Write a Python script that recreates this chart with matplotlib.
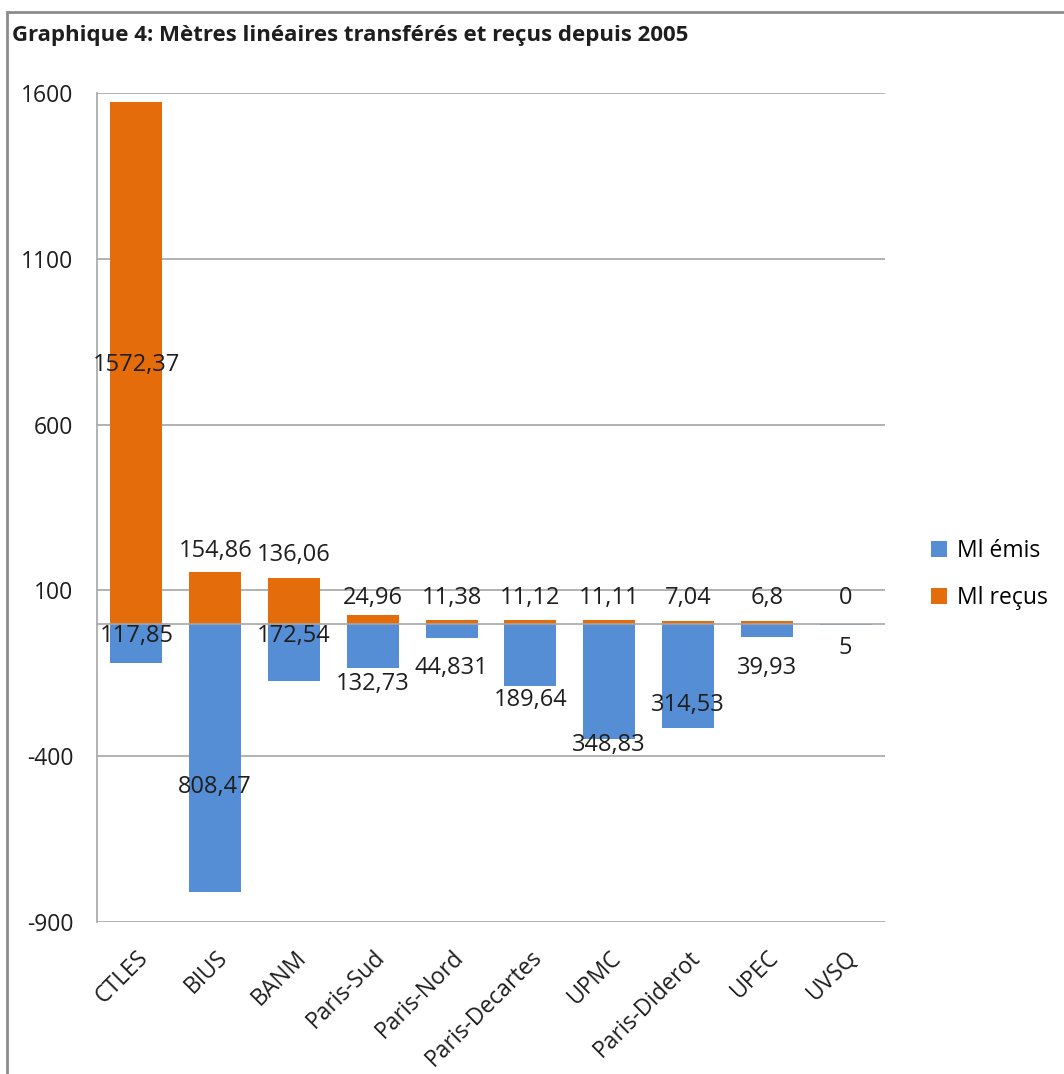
import matplotlib
matplotlib.use('Agg')
import matplotlib.pyplot as plt
from matplotlib.patches import Rectangle

plt.rcParams['font.family'] = ['Open Sans', 'DejaVu Sans']

# donnees
sites = ['CTLES', 'BIUS', 'BANM', 'Paris-Sud', 'Paris-Nord', 'Paris-Decartes',
         'UPMC', 'Paris-Diderot', 'UPEC', 'UVSQ']
emis = [117.85, 808.47, 172.54, 132.73, 44.831, 189.64, 348.83, 314.53, 39.93, 5]
recus = [1572.37, 154.86, 136.06, 24.96, 11.38, 11.12, 11.11, 7.04, 6.8, 0]
emis_txt = ['117,85', '808,47', '172,54', '132,73', '44,831', '189,64',
            '348,83', '314,53', '39,93', '5']
recus_txt = ['1572,37', '154,86', '136,06', '24,96', '11,38', '11,12',
             '11,11', '7,04', '6,8', '0']
# position verticale des etiquettes (comme dans le graphique d'origine)
emis_lab_y = [-37, -493, -37, -182, -134, -230, -366, -245, -134, -74]
recus_lab_y = [780, 219, 207, 77, 77, 77, 77, 77, 77, 77]
yticks = [1600, 1100, 600, 100, -400, -900]

blue = '#558ED5'
orange = '#E46C0A'
grid = '#A6A6A6'
txt = '#1E1E1E'

fig = plt.figure(figsize=(10.64, 10.74), dpi=100)
ax = fig.add_axes([0.0912, 0.1415, 0.7406, 0.7719])

x = range(len(sites))
ax.bar(x, [-v for v in emis], width=0.66, color=blue, label='Ml émis', zorder=3)
ax.bar(x, recus, width=0.66, color=orange, label='Ml reçus', zorder=3)

for i in x:
    ax.text(i, emis_lab_y[i], emis_txt[i], ha='center', va='center', fontsize=17, color=txt, zorder=5)
    ax.text(i, recus_lab_y[i], recus_txt[i], ha='center', va='center', fontsize=17, color=txt, zorder=5)

ax.set_xlim(-0.5, len(sites) - 0.5)
ax.set_ylim(-900, 1600)
ax.set_yticks(yticks)
ax.set_yticklabels([str(t) for t in yticks], fontsize=16.5, color=txt)
ax.tick_params(axis='y', length=0, pad=17)
ax.tick_params(axis='x', length=0, pad=17)
ax.set_xticks(list(x))
ax.set_xticklabels(sites, rotation=45, ha='right', rotation_mode='anchor', fontsize=16.5, color=txt)
for t in yticks:
    ax.axhline(t, color=grid, lw=1.2, zorder=1)
ax.axhline(0, color=grid, lw=1.2, zorder=4)
for s in ['top', 'right', 'bottom']:
    ax.spines[s].set_visible(False)
ax.spines['left'].set_color(grid)
ax.spines['left'].set_linewidth(1.2)

handles, labels = ax.get_legend_handles_labels()
fig.legend(handles, labels, loc='center left', bbox_to_anchor=(0.856, 0.465), frameon=False,
           fontsize=16.5, handlelength=0.7, handleheight=0.7, handletextpad=0.4, labelspacing=1.0)

fig.text(0.011, 0.967, 'Graphique 4: Mètres linéaires transférés et reçus depuis 2005',
         fontsize=16, fontweight='bold', va='center', ha='left', color=txt)
fig.patches.append(Rectangle((0.0065, -0.05), 1.1, 1.039, transform=fig.transFigure,
                             fill=False, edgecolor='#8C8C8C', lw=2))

fig.savefig('out.png', dpi=100)
